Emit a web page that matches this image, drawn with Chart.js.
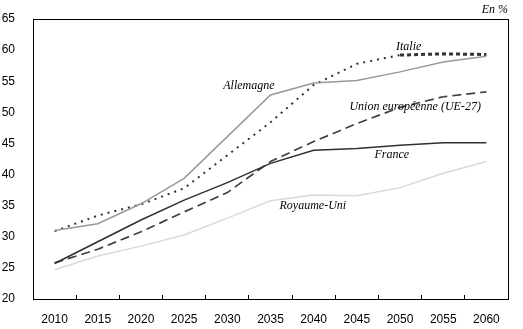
<!DOCTYPE html>
<html>
<head>
<meta charset="utf-8">
<script src="https://cdn.jsdelivr.net/npm/chart.js@4/dist/chart.umd.min.js"></script>
<style>
  html, body { margin: 0; padding: 0; background: #fff; }
  canvas { display: block; }
</style>
</head>
<body>
<canvas id="c" width="523" height="329"></canvas>
<script>
// years on the x axis
const years = ['2010', '2015', '2020', '2025', '2030', '2035', '2040', '2045', '2050', '2055', '2060'];

// share in %
const allemagne = [31.0, 32.1, 35.3, 39.4, 46.1, 52.8, 54.7, 55.1, 56.5, 58.1, 59.0];
const italie    = [30.9, 33.4, 35.2, 37.8, 43.1, 48.4, 54.4, 57.8, 59.2, 59.4, 59.3];
const ue27      = [25.8, 28.0, 30.8, 34.0, 37.1, 42.1, 45.3, 48.2, 50.8, 52.5, 53.3];
const france    = [25.7, 29.2, 32.7, 35.9, 38.7, 41.8, 43.9, 44.2, 44.7, 45.1, 45.1];
const royaumeUni = [24.7, 26.9, 28.5, 30.3, 33.0, 35.8, 36.7, 36.6, 37.9, 40.2, 42.1];

const yTicks = [20, 25, 30, 35, 40, 45, 50, 55, 60, 65];

// series names written next to the lines
const seriesLabels = ['Italie', 'Allemagne', 'Union européenne (UE-27)', 'France', 'Royaume-Uni'];

// where each name sits, in axis units (category index, %)
const labelSpots = [[8.20, 60.6], [4.50, 54.2], [8.35, 50.9], [7.81, 43.1], [5.98, 34.95]];

const frame = {
  id: 'frame',
  afterDatasetsDraw(chart) {
    const { ctx, chartArea: a } = chart;
    ctx.save();
    ctx.strokeStyle = '#000';
    ctx.lineWidth = 1;
    ctx.strokeRect(Math.round(a.left) + 0.5, Math.round(a.top) + 0.5,
      Math.round(a.right - a.left), Math.round(a.bottom - a.top));
    ctx.restore();
  },
  afterDraw(chart) {
    const { ctx, scales } = chart;
    ctx.save();
    ctx.fillStyle = '#000';
    ctx.font = 'italic 12px "Liberation Serif"';
    ctx.textAlign = 'center';
    ctx.textBaseline = 'middle';
    seriesLabels.forEach((t, i) => {
      const [xi, yv] = labelSpots[i];
      ctx.fillText(t, scales.x.getPixelForValue(xi), scales.y.getPixelForValue(yv));
    });
    ctx.textAlign = 'right';
    ctx.fillText('En %', chart.chartArea.right, 10);
    ctx.restore();
  }
};

new Chart(document.getElementById('c'), {
  type: 'line',
  data: {
    labels: years,
    datasets: [
      { label: 'Royaume-Uni', data: royaumeUni, borderColor: '#d9d9d9', borderWidth: 1.5 },
      { label: 'Allemagne', data: allemagne, borderColor: '#999999', borderWidth: 1.5 },
      { label: 'France', data: france, borderColor: '#303030', borderWidth: 1.5 },
      { label: 'Union européenne (UE-27)', data: ue27, borderColor: '#404040', borderWidth: 1.7, borderDash: [9, 5] },
      {
        label: 'Italie', data: italie, borderColor: '#333333', borderWidth: 2, borderDash: [2, 5],
        segment: {
          borderWidth: c => c.p0DataIndex >= 8 ? 3 : 2,
          borderDash: c => c.p0DataIndex >= 8 ? [4, 3] : [2, 5]
        }
      }
    ]
  },
  options: {
    responsive: false,
    devicePixelRatio: 1,
    animation: false,
    layout: { padding: { top: 19, right: 15, left: 0, bottom: 0 } },
    elements: { point: { radius: 0 }, line: { tension: 0 } },
    plugins: { legend: { display: false }, tooltip: { enabled: false } },
    scales: {
      x: {
        offset: true,
        grid: { drawOnChartArea: false, offset: true, tickLength: -4, color: '#000' },
        border: { color: '#000' },
        ticks: { color: '#000', padding: 17, maxRotation: 0, font: { family: 'Liberation Sans', size: 12 } },
        afterFit: s => { s.height = 30; }
      },
      y: {
        min: 20, max: 65,
        afterBuildTicks: s => { s.ticks = yTicks.map(v => ({ value: v })); },
        grid: { display: false },
        border: { color: '#000' },
        ticks: { color: '#000', padding: 10, font: { family: 'Liberation Sans', size: 12 } },
        afterFit: s => { s.width = 33; }
      }
    }
  },
  plugins: [frame]
});
</script>
</body>
</html>
